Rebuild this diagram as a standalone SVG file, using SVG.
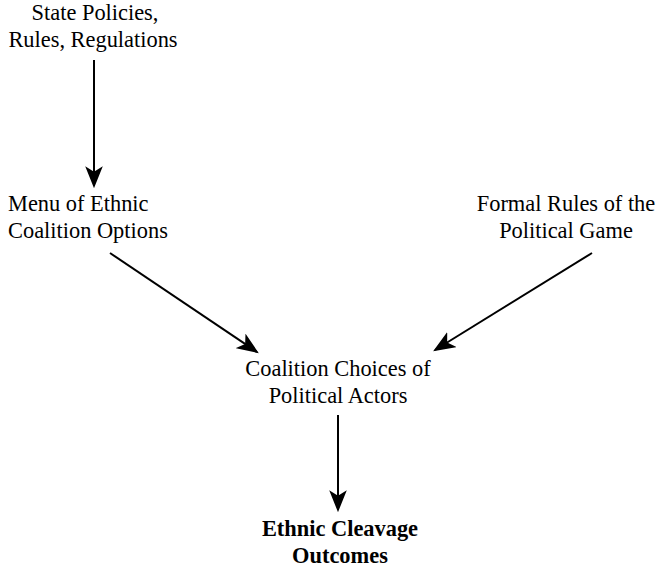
<svg xmlns="http://www.w3.org/2000/svg" width="656" height="570" viewBox="0 0 656 570">
<style>
text{font-family:"Liberation Serif","Times New Roman",serif;font-size:22.4px;fill:#000;text-anchor:middle}
.b{font-weight:bold}
.c{stroke:#000;stroke-width:2;fill:none}
</style>
<defs>
<marker id="ah" viewBox="0 0 20 16" refX="18" refY="8" markerWidth="22" markerHeight="18" markerUnits="userSpaceOnUse" orient="auto">
<path d="M0,0 L20,8 L0,16 L5,8 Z" fill="#000"/>
</marker>
</defs>
<rect width="656" height="570" fill="#fff"/>
<g id="n1"><text x="95" y="20">State Policies,</text><text x="93" y="47">Rules, Regulations</text></g>
<g id="n2"><text x="8" y="211" style="text-anchor:start">Menu of Ethnic</text><text x="8" y="238" style="text-anchor:start">Coalition Options</text></g>
<g id="n3"><text x="566" y="211">Formal Rules of the</text><text x="566" y="238">Political Game</text></g>
<g id="n4"><text x="338" y="376">Coalition Choices of</text><text x="338" y="403">Political Actors</text></g>
<g id="n5"><text class="b" x="340" y="536">Ethnic Cleavage</text><text class="b" x="340" y="563">Outcomes</text></g>
<g id="connectors">
<line class="c" x1="94" y1="60" x2="94" y2="186" marker-end="url(#ah)"/>
<line class="c" x1="110" y1="253" x2="257" y2="352" marker-end="url(#ah)"/>
<line class="c" x1="592" y1="253" x2="435" y2="350" marker-end="url(#ah)"/>
<line class="c" x1="338" y1="415" x2="338" y2="510" marker-end="url(#ah)"/>
</g>
</svg>
